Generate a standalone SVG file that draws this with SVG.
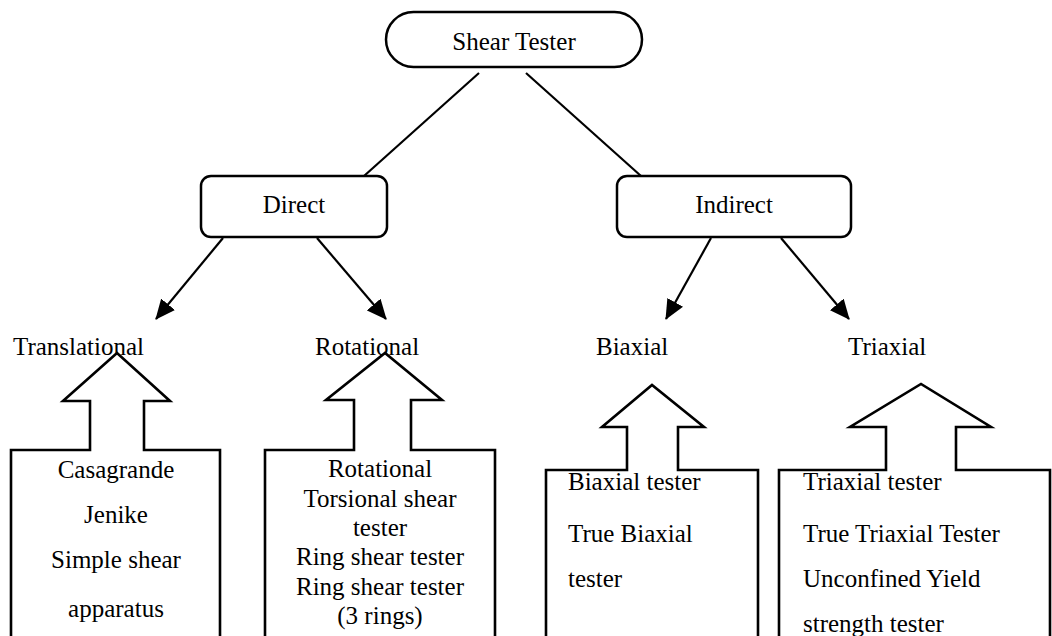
<svg xmlns="http://www.w3.org/2000/svg" width="1052" height="636" viewBox="0 0 1052 636">
<style>
text{font-family:"Liberation Serif","Times New Roman",serif;font-size:25px;fill:#000}
.c{text-anchor:middle}
.box{fill:#fff;stroke:#000;stroke-width:2.5}
.ln{stroke:#000;stroke-width:2.2;fill:none}
.out{fill:none;stroke:#000;stroke-width:2.6;stroke-linejoin:miter}
</style>
<defs>
<marker id="ah" markerUnits="userSpaceOnUse" markerWidth="20" markerHeight="18" refX="19" refY="9" orient="auto">
<path d="M0,0 L20,9 L0,18 z" fill="#000"/>
</marker>
</defs>
<rect width="1052" height="636" fill="#fff"/>
<g id="connectors">
<line class="ln" x1="479" y1="73" x2="364" y2="176"/>
<line class="ln" x1="526" y1="73" x2="641" y2="176"/>
<line class="ln" x1="223" y1="238" x2="156" y2="319" marker-end="url(#ah)"/>
<line class="ln" x1="317" y1="238" x2="386" y2="319" marker-end="url(#ah)"/>
<line class="ln" x1="711" y1="238" x2="666" y2="319" marker-end="url(#ah)"/>
<line class="ln" x1="781" y1="238" x2="849" y2="319" marker-end="url(#ah)"/>
</g>
<g id="shear-tester">
<rect class="box" x="386" y="12" width="256" height="55" rx="27.5"/>
<text class="c" x="514" y="50">Shear Tester</text>
</g>
<g id="direct">
<rect class="box" x="201" y="176" width="186" height="61" rx="10"/>
<text class="c" x="294" y="213">Direct</text>
</g>
<g id="indirect">
<rect class="box" x="617" y="176" width="234" height="61" rx="10"/>
<text class="c" x="734" y="213">Indirect</text>
</g>
<g id="translational">
<text x="13" y="355">Translational</text>
<path class="out" d="M11,640 L11,450 L90,450 L90,401 L63,401 L117,353 L170,401 L144,401 L144,450 L220,450 L220,640"/>
<text class="c" x="116" y="478">Casagrande</text>
<text class="c" x="116" y="523">Jenike</text>
<text class="c" x="116" y="568">Simple shear</text>
<text class="c" x="116" y="617">apparatus</text>
</g>
<g id="rotational">
<text x="315" y="355">Rotational</text>
<path class="out" d="M265,640 L265,450 L354,450 L354,400 L326,400 L385,353 L442,400 L411,400 L411,450 L495,450 L495,640"/>
<text class="c" x="380" y="477">Rotational</text>
<text class="c" x="380" y="507">Torsional shear</text>
<text class="c" x="380" y="536">tester</text>
<text class="c" x="380" y="565">Ring shear tester</text>
<text class="c" x="380" y="595">Ring shear tester</text>
<text class="c" x="380" y="624">(3 rings)</text>
</g>
<g id="biaxial">
<text x="596" y="355">Biaxial</text>
<path class="out" d="M546,640 L546,470 L627,470 L627,427 L602,427 L652,385 L704,427 L678,427 L678,470 L758,470 L758,640"/>
<text x="568" y="490">Biaxial tester</text>
<text x="568" y="542">True Biaxial</text>
<text x="568" y="587">tester</text>
</g>
<g id="triaxial">
<text x="848" y="355">Triaxial</text>
<path class="out" d="M779,640 L779,470 L886,470 L886,427 L850,427 L921,384 L991,427 L956,427 L956,470 L1050,470 L1050,640"/>
<text x="803" y="490">Triaxial tester</text>
<text x="803" y="542">True Triaxial Tester</text>
<text x="803" y="587">Unconfined Yield</text>
<text x="803" y="632">strength tester</text>
</g>
</svg>
